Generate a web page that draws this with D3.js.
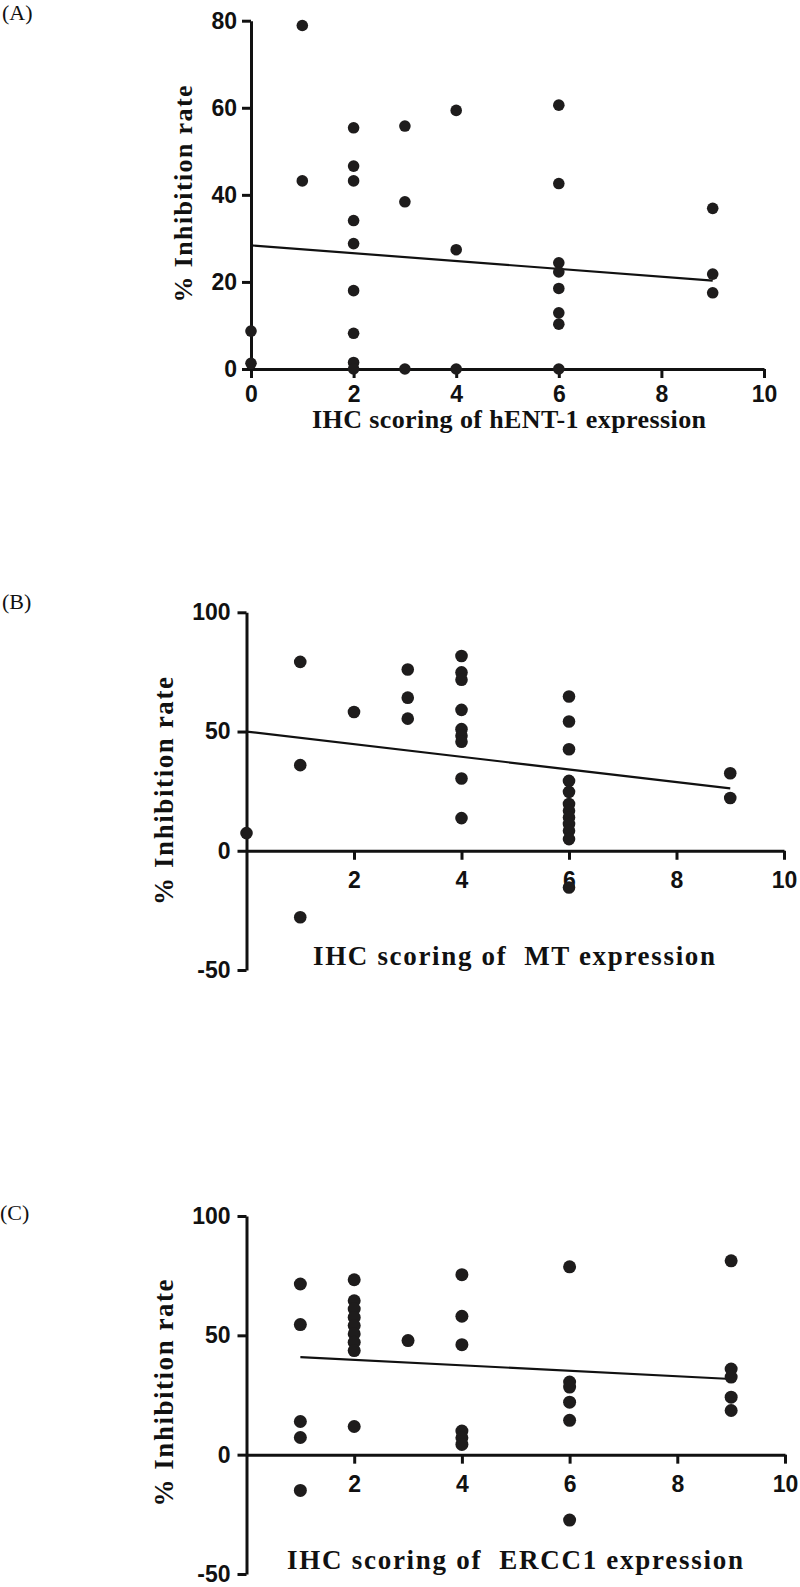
<!DOCTYPE html>
<html><head><meta charset="utf-8">
<script src="https://cdn.jsdelivr.net/npm/d3@7"></script>
<style>
body{margin:0;background:#fff;}
svg{display:block;}
</style></head><body>
<svg id="chart" width="800" height="1587"></svg>
<script>
// ---------- DATA ----------
const xTicksA = [0, 2, 4, 6, 8, 10];
const yTicksA = [0, 20, 40, 60, 80];
const xTicksBC = [2, 4, 6, 8, 10];
const yTicksBC = [-50, 0, 50, 100];

// (A) hENT-1
const hentScore = [0,0, 1,1, 2,2,2,2,2,2,2,2,2, 3,3,3, 4,4,4, 6,6,6,6,6,6,6,6, 9,9,9];
const hentInhib = [8.7,1.3, 78.9,43.2, 55.4,46.6,43.2,34.1,28.8,18.0,8.2,1.5,0, 55.8,38.4,0, 59.4,27.4,0, 60.6,42.6,24.4,22.3,18.5,12.9,10.3,0, 36.9,21.8,17.5];
const hentFit = [28.4, -0.9];      // intercept, slope
const hentFitRange = [0, 9];

// (B) MT
const mtScore = [0, 1,1,1, 2, 3,3,3, 4,4,4,4,4,4,4,4,4, 6,6,6,6,6,6,6,6,6,6,6,6, 9,9];
const mtInhib = [7.4, 79.2,35.9,-27.9, 58.2, 76.0,64.2,55.4, 81.7,74.8,71.7,59.1,51.0,48.2,45.7,30.3,13.7, 64.7,54.2,42.6,29.3,24.7,19.6,16.8,14.0,11.2,8.4,4.9,-15.4, 32.5,22.1];
const mtFit = [50.0, -2.65];
const mtFitRange = [0, 9];

// (C) ERCC1
const erccScore = [1,1,1,1,1, 2,2,2,2,2,2,2,2,2, 3, 4,4,4,4,4,4, 6,6,6,6,6,6, 9,9,9,9,9];
const erccInhib = [71.5,54.5,13.9,7.2,-15.0, 73.3,64.5,61.0,57.5,54.1,50.6,47.1,43.6,11.8, 47.8, 75.4,58.0,46.1,9.9,7.1,4.3, 78.7,30.4,28.3,22.0,14.4,-27.4, 81.2,35.9,32.5,24.1,18.5];
const erccFit = [42.05, -1.15];
const erccFitRange = [1, 9];

const panelLabels = ["(A)", "(B)", "(C)"];
const xTitles = ["IHC scoring of hENT-1 expression", "IHC scoring of  MT expression", "IHC scoring of  ERCC1 expression"];
const yTitle = "% Inhibition rate";

// ---------- LAYOUT ----------
const svg = d3.select('#chart');
const panels = [
  {xs: hentScore, ys: hentInhib, fit: hentFit, fitRange: hentFitRange,
   xTicks: xTicksA, yTicks: yTicksA, yDomain: [0, 80],
   xRange: [251, 764], yRange: [369, 20.7], xPad: 8, yPad: 5, r: 5.8,
   label: {x: 2, y: 20}, yT: {x: 192, y: 194, len: 217, fs: 26},
   xT: {x1: 312, x2: 706, y: 428, fs: 26}},
  {xs: mtScore, ys: mtInhib, fit: mtFit, fitRange: mtFitRange,
   xTicks: xTicksBC, yTicks: yTicksBC, yDomain: [-50, 100],
   xRange: [246.5, 784], yRange: [970, 612.3], xPad: 12, yPad: 7, r: 6.3,
   label: {x: 2, y: 609}, yT: {x: 173, y: 791, len: 228, fs: 27},
   xT: {x1: 313, x2: 715, y: 965, fs: 27}},
  {xs: erccScore, ys: erccInhib, fit: erccFit, fitRange: erccFitRange,
   xTicks: xTicksBC, yTicks: yTicksBC, yDomain: [-50, 100],
   xRange: [246.5, 785], yRange: [1574, 1216], xPad: 12, yPad: 7, r: 6.5,
   label: {x: 0, y: 1220}, yT: {x: 173, y: 1393, len: 227, fs: 27},
   xT: {x1: 287, x2: 743, y: 1569, fs: 27}}
];

const sans = "'Liberation Sans', Arial, Helvetica, sans-serif";
const serif = "'Liberation Serif', 'Times New Roman', Times, serif";

panels.forEach((p, i) => {
  const x = d3.scaleLinear().domain([0, 10]).range(p.xRange);
  const y = d3.scaleLinear().domain(p.yDomain).range(p.yRange);
  const g = svg.append('g');

  const ya = g.append('g').attr('transform', `translate(${p.xRange[0]},0)`)
    .call(d3.axisLeft(y).tickValues(p.yTicks).tickSize(9).tickPadding(p.yPad)
      .tickSizeOuter(0).tickFormat(d => String(d)));
  const xa = g.append('g').attr('transform', `translate(0,${y(0)})`)
    .call(d3.axisBottom(x).tickValues(p.xTicks).tickSize(9).tickPadding(p.xPad)
      .tickSizeOuter(0).tickFormat(d => String(d)));

  [ya, xa].forEach(a => {
    a.select('.domain').attr('stroke', '#111').attr('stroke-width', 3);
    a.selectAll('.tick line').attr('stroke', '#111').attr('stroke-width', 3);
    a.selectAll('.tick text').attr('fill', '#111')
      .style('font-family', sans).style('font-weight', 'bold').style('font-size', '23px');
  });

  // regression line
  const [a0, b0] = p.fit;
  g.append('line')
    .attr('x1', x(p.fitRange[0])).attr('y1', y(a0 + b0 * p.fitRange[0]))
    .attr('x2', x(p.fitRange[1])).attr('y2', y(a0 + b0 * p.fitRange[1]))
    .attr('stroke', '#111').attr('stroke-width', 2.2);

  // points
  g.selectAll('circle.pt').data(p.xs.map((v, k) => [v, p.ys[k]])).join('circle')
    .attr('class', 'pt')
    .attr('cx', d => x(d[0])).attr('cy', d => y(d[1])).attr('r', p.r)
    .attr('fill', '#1e1c1c');

  // panel label
  g.append('text').attr('x', p.label.x).attr('y', p.label.y)
    .style('font-family', serif).style('font-size', '22px').attr('fill', '#111')
    .text(panelLabels[i]);

  // y title
  g.append('text')
    .attr('transform', `translate(${p.yT.x},${p.yT.y}) rotate(-90)`)
    .attr('text-anchor', 'middle')
    .attr('textLength', p.yT.len).attr('lengthAdjust', 'spacing')
    .style('font-family', serif).style('font-weight', 'bold').style('font-size', p.yT.fs + 'px')
    .attr('fill', '#111')
    .text(yTitle);

  // x title
  g.append('text')
    .attr('x', p.xT.x1).attr('y', p.xT.y)
    .attr('textLength', p.xT.x2 - p.xT.x1).attr('lengthAdjust', 'spacing')
    .style('font-family', serif).style('font-weight', 'bold').style('font-size', p.xT.fs + 'px')
    .style('white-space', 'pre')
    .attr('fill', '#111')
    .text(xTitles[i]);
});
</script>
</body></html>
